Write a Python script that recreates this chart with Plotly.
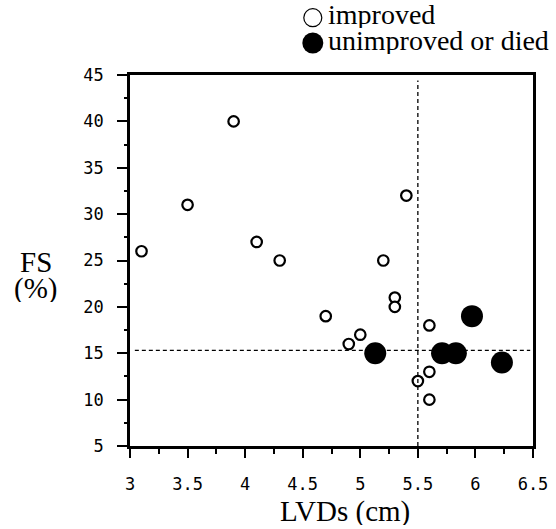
import plotly.graph_objects as go

# improved (open circles)
imp_x = [3.1, 3.5, 3.9, 4.1, 4.3, 4.7, 4.9, 5.0, 5.2, 5.3, 5.3, 5.4, 5.5, 5.6, 5.6, 5.6]
imp_y = [26, 31, 40, 27, 25, 19, 16, 17, 25, 21, 20, 32, 12, 18, 13, 10]

# unimproved or died (filled circles)
unimp_x = [5.13, 5.71, 5.83, 5.97, 6.23]
unimp_y = [15, 15, 15, 19, 14]

x_cut = 5.5
y_cut = 15.3

x_ticks = [3, 3.5, 4, 4.5, 5, 5.5, 6, 6.5]
y_ticks = [5, 10, 15, 20, 25, 30, 35, 40, 45]

legend_labels = ["improved", "unimproved or died"]

serif = "Liberation Serif"
sans = "DejaVu Sans Mono"

fig = go.Figure()
fig.add_trace(go.Scatter(
    x=imp_x, y=imp_y, mode="markers", name=legend_labels[0],
    marker=dict(symbol="circle", size=10.5, color="white",
                line=dict(color="black", width=2.2)),
))
fig.add_trace(go.Scatter(
    x=unimp_x, y=unimp_y, mode="markers", name=legend_labels[1],
    marker=dict(symbol="circle", size=22, color="black",
                line=dict(color="black", width=0)),
))

# reference lines
fig.add_shape(type="line", x0=x_cut, x1=x_cut, y0=0.0, y1=0.985,
              xref="x", yref="paper",
              line=dict(color="black", width=1.3, dash="4px,3px"))
fig.add_shape(type="line", x0=0.012, x1=0.993, y0=y_cut, y1=y_cut,
              xref="paper", yref="y",
              line=dict(color="black", width=1.3, dash="4px,3px"))

# legend (drawn manually for exact spacing)
lx = 0.4536
fig.add_shape(type="circle", xref="paper", yref="paper",
              xsizemode="pixel", ysizemode="pixel",
              xanchor=lx, yanchor=1.1544, x0=-9, x1=9, y0=-9, y1=9,
              fillcolor="white", line=dict(color="black", width=1.2))
fig.add_shape(type="circle", xref="paper", yref="paper",
              xsizemode="pixel", ysizemode="pixel",
              xanchor=lx, yanchor=1.0863, x0=-10.5, x1=10.5, y0=-10.5, y1=10.5,
              fillcolor="black", line=dict(color="black", width=0))
fig.add_annotation(text=legend_labels[0], xref="paper", yref="paper",
                   x=0.4864, y=1.162, xanchor="left", yanchor="middle",
                   height=27, valign="middle",
                   showarrow=False, font=dict(family=serif, size=28, color="black"))
fig.add_annotation(text=legend_labels[1], xref="paper", yref="paper",
                   x=0.4864, y=1.092, xanchor="left", yanchor="middle",
                   height=27, valign="middle",
                   showarrow=False, font=dict(family=serif, size=28, color="black"))

fig.update_layout(
    width=556, height=529,
    margin=dict(l=130, r=23, t=75, b=83, autoexpand=False),
    plot_bgcolor="white", paper_bgcolor="white",
    showlegend=False,
    xaxis=dict(
        range=[3, 6.5], tickvals=x_ticks, ticktext=[str(v) for v in x_ticks],
        showgrid=False, zeroline=False,
        showline=True, linecolor="black", linewidth=2.5, mirror=True,
        ticks="outside", ticklen=9, tickwidth=2, tickcolor="black",
        minor=dict(dtick=0.25, ticks="outside", ticklen=5, tickwidth=2, tickcolor="black"),
        tickfont=dict(family=sans, size=17, color="black"),
        ticklabelstandoff=12,
    ),
    yaxis=dict(
        range=[5, 45], tickvals=y_ticks, ticktext=[str(v) for v in y_ticks],
        showgrid=False, zeroline=False,
        showline=True, linecolor="black", linewidth=2.5, mirror=True,
        ticks="outside", ticklen=10, tickwidth=2, tickcolor="black",
        minor=dict(dtick=2.5, ticks="outside", ticklen=3, tickwidth=2, tickcolor="black"),
        tickfont=dict(family=sans, size=17, color="black"),
        ticklabelstandoff=10,
    ),
)

fig.add_annotation(text="FS", xref="paper", yref="paper",
                   x=-0.2333, y=0.4973, xanchor="center", yanchor="middle",
                   height=27, valign="middle",
                   showarrow=False, font=dict(family=serif, size=29, color="black"))
fig.add_annotation(text="(%)", xref="paper", yref="paper",
                   x=-0.2357, y=0.4232, xanchor="center", yanchor="middle",
                   height=27, valign="middle",
                   showarrow=False, font=dict(family=serif, size=29, color="black"))
fig.add_annotation(text="LVDs (cm)", xref="paper", yref="paper",
                   x=0.5335, y=-0.175, xanchor="center", yanchor="middle",
                   height=28, valign="middle",
                   showarrow=False, font=dict(family=serif, size=29, color="black"))

fig.write_html("out.html", config={"displayModeBar": False},
               post_script="document.body.style.margin='0';")
